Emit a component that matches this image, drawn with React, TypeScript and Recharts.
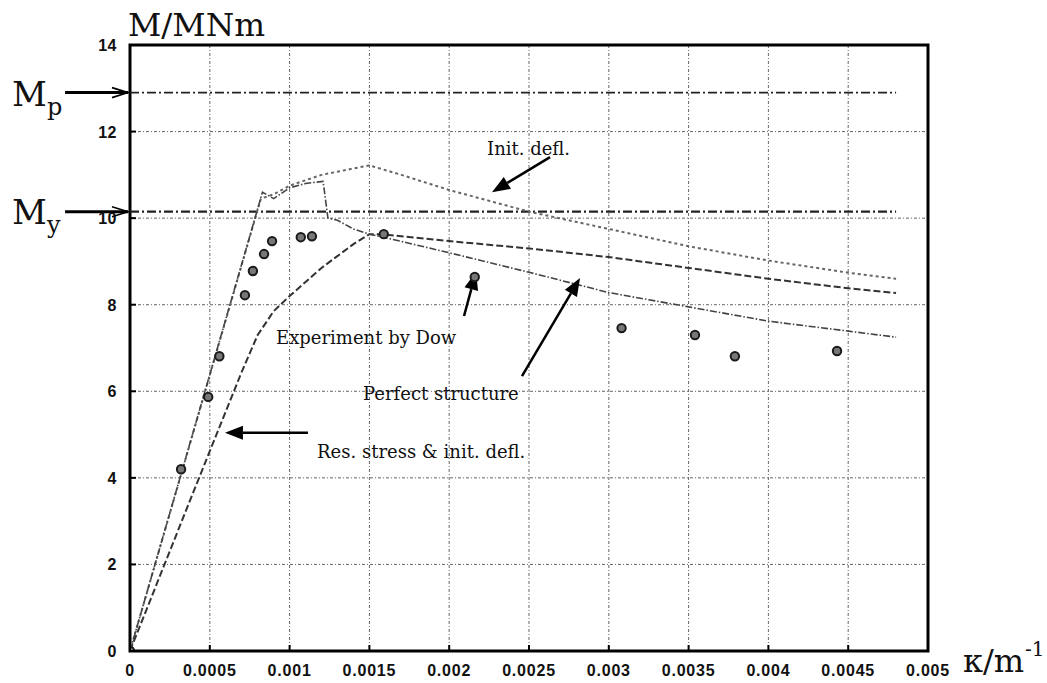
import React from 'react';
import {
  ComposedChart,
  Line,
  Scatter,
  XAxis,
  YAxis,
  CartesianGrid,
  ReferenceLine,
  ReferenceDot,
  ReferenceArea,
} from 'recharts';

// Axis ticks
const kTicks = [0, 0.0005, 0.001, 0.0015, 0.002, 0.0025, 0.003, 0.0035, 0.004, 0.0045, 0.005];
const kTickLabels = ['0', '0.0005', '0.001', '0.0015', '0.002', '0.0025', '0.003', '0.0035', '0.004', '0.0045', '0.005'];
const mTicks = [0, 2, 4, 6, 8, 10, 12, 14];

// Perfect structure (curvature 1/m, moment MNm)
const perfectK = [0, 0.00083, 0.0009, 0.001, 0.0011, 0.00121, 0.00124, 0.0013, 0.0014, 0.0015, 0.0016, 0.002, 0.0025, 0.003, 0.0035, 0.004, 0.0045, 0.0048];
const perfectM = [0, 10.6, 10.45, 10.7, 10.8, 10.85, 10.0, 9.95, 9.75, 9.63, 9.55, 9.2, 8.75, 8.28, 7.95, 7.62, 7.39, 7.25];

// Initial deflection only
const initDeflK = [0, 0.00082, 0.0009, 0.001, 0.0012, 0.0015, 0.0017, 0.002, 0.0025, 0.003, 0.0035, 0.004, 0.0045, 0.0048];
const initDeflM = [0, 10.45, 10.55, 10.75, 11.0, 11.22, 11.0, 10.65, 10.15, 9.75, 9.35, 9.02, 8.74, 8.6];

// Residual stress & initial deflection
const resStressK = [0, 0.0004, 0.0007, 0.0008, 0.0009, 0.001, 0.0012, 0.0014, 0.0015, 0.0016, 0.002, 0.0025, 0.003, 0.0035, 0.004, 0.0045, 0.0048];
const resStressM = [0, 3.7, 6.45, 7.3, 7.85, 8.2, 8.85, 9.4, 9.63, 9.62, 9.47, 9.3, 9.1, 8.85, 8.6, 8.38, 8.27];

// Experiment by Dow
const dowK = [0, 0.00032, 0.00049, 0.00056, 0.00072, 0.00077, 0.00084, 0.00089, 0.00107, 0.00114, 0.00159, 0.00216, 0.00308, 0.00354, 0.00379, 0.00443];
const dowM = [0, 4.2, 5.87, 6.81, 8.22, 8.78, 9.17, 9.47, 9.56, 9.58, 9.63, 8.64, 7.46, 7.3, 6.81, 6.93];

// Plastic and first-yield moments
const M_P = 12.9;
const M_Y = 10.15;
const K_LINE_END = 0.0048;

const zip = (ks: number[], ms: number[]) => ks.map((k, i) => ({ k, m: ms[i] }));

const perfectData = zip(perfectK, perfectM);
const initDeflData = zip(initDeflK, initDeflM);
const resStressData = zip(resStressK, resStressM);
const dowData = zip(dowK, dowM);

const TICK_FONT = "'Liberation Sans', Arial, sans-serif";
const SERIF = "'DejaVu Serif', serif";
const X_TICK_MARGIN = 12;
const Y_TICK_MARGIN = 13;

const XTick = (p: any) => {
  const { x, y, index } = p;
  const axisY = y - X_TICK_MARGIN;
  return (
    <g>
      <line x1={x} y1={axisY} x2={x} y2={axisY - 6} stroke="#000" strokeWidth={2} />
      <text x={x} y={y + 13} textAnchor="middle" fontFamily={TICK_FONT} fontWeight="bold" fontSize={16} letterSpacing={0.8} fill="#111">
        {kTickLabels[index]}
      </text>
    </g>
  );
};

const YTick = (p: any) => {
  const { x, y, payload } = p;
  const axisX = x + Y_TICK_MARGIN;
  return (
    <g>
      <line x1={axisX} y1={y} x2={axisX + 6} y2={y} stroke="#000" strokeWidth={2} />
      <text x={x} y={y + 6} textAnchor="end" fontFamily={TICK_FONT} fontWeight="bold" fontSize={16} letterSpacing={0.5} fill="#111">
        {payload.value}
      </text>
    </g>
  );
};

// Arrow drawn along a reference segment, head at the segment end
const arrowShape = (head: 'solid' | 'open', strokeWidth: number) => (p: any) => {
  const { x1, y1, x2, y2 } = p;
  if ([x1, y1, x2, y2].some((v) => v == null || Number.isNaN(v))) return <g />;
  const a = Math.atan2(y2 - y1, x2 - x1);
  const L = head === 'solid' ? 18 : 16;
  const W = head === 'solid' ? 7 : 5;
  const bx = x2 - L * Math.cos(a);
  const by = y2 - L * Math.sin(a);
  const nx = -Math.sin(a) * W;
  const ny = Math.cos(a) * W;
  if (head === 'solid') {
    return (
      <g>
        <line x1={x1} y1={y1} x2={bx} y2={by} stroke="#000" strokeWidth={strokeWidth} />
        <polygon points={`${x2},${y2} ${bx + nx},${by + ny} ${bx - nx},${by - ny}`} fill="#000" />
      </g>
    );
  }
  return (
    <g>
      <line x1={x1} y1={y1} x2={x2} y2={y2} stroke="#000" strokeWidth={strokeWidth} />
      <polyline points={`${bx + nx},${by + ny} ${x2},${y2} ${bx - nx},${by - ny}`} fill="none" stroke="#000" strokeWidth={1.6} />
    </g>
  );
};

type Arrow = { from: [number, number]; to: [number, number] };

const noteArrows: Arrow[] = [
  { from: [0.002632, 11.41], to: [0.002268, 10.6] },
  { from: [0.002093, 7.74], to: [0.002168, 8.76] },
  { from: [0.002456, 6.35], to: [0.00282, 8.62] },
  { from: [0.001115, 5.04], to: [0.000595, 5.04] },
];

const momentArrows: Arrow[] = [
  { from: [-0.000407, M_P], to: [-0.0000125, M_P] },
  { from: [-0.000407, M_Y], to: [-0.0000125, M_Y] },
];

type Note = { k: number; m: number; text: string };

const notes: Note[] = [
  { k: 0.002237, m: 11.46, text: 'Init. defl.' },
  { k: 0.000915, m: 7.09, text: 'Experiment by Dow' },
  { k: 0.00146, m: 5.8, text: 'Perfect structure' },
  { k: 0.001172, m: 4.46, text: 'Res. stress & init. defl.' },
];

const textShape = (render: (x: number, y: number) => React.ReactNode) => (p: any) => {
  if (p.cx == null || p.cy == null) return <g />;
  return <g>{render(p.cx, p.cy)}</g>;
};

const DowMarker = (p: any) => {
  const { cx, cy } = p;
  if (cx == null || cy == null) return <g />;
  return <circle cx={cx} cy={cy} r={4.2} fill="#777" stroke="#1a1a1a" strokeWidth={2} />;
};

export default function App() {
  return (
    <div style={{ position: 'absolute', left: 0, top: 0, width: 1047, height: 683, background: '#fff' }}>
      <ComposedChart width={1047} height={683} margin={{ top: 45, right: 119, bottom: 0, left: 90 }}>
        <CartesianGrid stroke="#666" strokeWidth={1} strokeDasharray="3 2 1 2" />
        <XAxis
          type="number"
          dataKey="k"
          domain={[0, 0.005]}
          ticks={kTicks}
          interval={0}
          allowDataOverflow
          height={32}
          tickSize={0}
          tickMargin={X_TICK_MARGIN}
          tick={(p: any) => <XTick {...p} />}
          axisLine={false}
        />
        <YAxis
          type="number"
          dataKey="m"
          domain={[0, 14]}
          ticks={mTicks}
          interval={0}
          allowDataOverflow
          width={40}
          tickSize={0}
          tickMargin={Y_TICK_MARGIN}
          tick={(p: any) => <YTick {...p} />}
          axisLine={false}
        />

        <ReferenceLine
          segment={[{ x: 0, y: M_P }, { x: K_LINE_END, y: M_P }]}
          stroke="#222"
          strokeWidth={1.8}
          strokeDasharray="9 3 2 3"
        />
        <ReferenceLine
          segment={[{ x: 0, y: M_Y }, { x: K_LINE_END, y: M_Y }]}
          stroke="#222"
          strokeWidth={2.4}
          strokeDasharray="9 3 2 3"
        />

        <Line data={initDeflData} dataKey="m" type="linear" stroke="#666" strokeWidth={2} strokeDasharray="3 3" dot={false} isAnimationActive={false} />
        <Line data={resStressData} dataKey="m" type="linear" stroke="#333" strokeWidth={2} strokeDasharray="7 3" dot={false} isAnimationActive={false} />
        <Line data={perfectData} dataKey="m" type="linear" stroke="#444" strokeWidth={1.6} strokeDasharray="7 2 1.5 2" dot={false} isAnimationActive={false} />
        <Scatter data={dowData} dataKey="m" shape={DowMarker} isAnimationActive={false} />

        <ReferenceArea x1={0} x2={0.005} y1={0} y2={14} fill="none" fillOpacity={0} stroke="#000" strokeWidth={3} />

        {noteArrows.map((a, i) => (
          <ReferenceLine
            key={`na${i}`}
            segment={[{ x: a.from[0], y: a.from[1] }, { x: a.to[0], y: a.to[1] }]}
            ifOverflow="visible"
            shape={arrowShape('solid', 2.5)}
          />
        ))}
        {momentArrows.map((a, i) => (
          <ReferenceLine
            key={`ma${i}`}
            segment={[{ x: a.from[0], y: a.from[1] }, { x: a.to[0], y: a.to[1] }]}
            ifOverflow="visible"
            shape={arrowShape('open', 3)}
          />
        ))}

        {notes.map((n, i) => (
          <ReferenceDot
            key={`n${i}`}
            x={n.k}
            y={n.m}
            r={0}
            ifOverflow="visible"
            shape={textShape((x, y) => (
              <text x={x} y={y} fontFamily={SERIF} fontSize={18} fill="#111">
                {n.text}
              </text>
            ))}
          />
        ))}

        {/* Axis titles */}
        <ReferenceDot
          x={-0.0000125}
          y={14.21}
          r={0}
          ifOverflow="visible"
          shape={textShape((x, y) => (
            <text x={x} y={y} fontFamily={SERIF} fontSize={32} fill="#111" textLength={137} lengthAdjust="spacingAndGlyphs">
              M/MNm
            </text>
          ))}
        />
        <ReferenceDot
          x={0.005219}
          y={-0.485}
          r={0}
          ifOverflow="visible"
          shape={textShape((x, y) => (
            <text x={x} y={y} fontFamily={SERIF} fontSize={32} fill="#111">
              κ/m
              <tspan dx={1} dy={-16} fontSize={20}>-1</tspan>
            </text>
          ))}
        />

        {/* Moment level labels */}
        <ReferenceDot
          x={-0.000739}
          y={12.59}
          r={0}
          ifOverflow="visible"
          shape={textShape((x, y) => (
            <text x={x} y={y} fontFamily={SERIF} fontSize={34} fill="#111">
              M<tspan dy={9} fontSize={24}>p</tspan>
            </text>
          ))}
        />
        <ReferenceDot
          x={-0.000739}
          y={9.86}
          r={0}
          ifOverflow="visible"
          shape={textShape((x, y) => (
            <text x={x} y={y} fontFamily={SERIF} fontSize={34} fill="#111">
              M<tspan dy={9} fontSize={24}>y</tspan>
            </text>
          ))}
        />
      </ComposedChart>
    </div>
  );
}
